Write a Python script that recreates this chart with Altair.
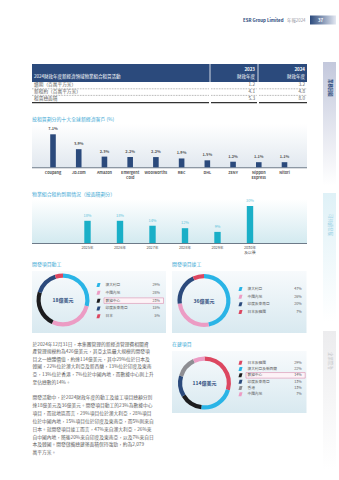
import altair as alt
import pandas as pd

FONT = "Noto Sans CJK TC"
NAVY = "#2b4a7c"
CYAN_BAR = "#1aafc7"
CYAN = "#2ab4e6"
PINK = "#ec9cc4"
BLACK = "#1c1c1e"
RED = "#dc4760"
GRAY = "#8e8e93"
TITLE = "#3aa7d4"
TEXT = "#4a4a4a"
PARA = "#606060"

# ---------------- data ----------------
table_rows = ["續期（百萬平方米）", "新租約（百萬平方米）", "租賃總面積"]
fy2023 = [1.2, 4.1, 5.3]
fy2024 = [3.2, 4.8, 8.0]

customers = ["Coupang", "JD.com", "Amazon", "Emergent\nCold", "Woolworths",
             "RBC", "DHL", "ZENY", "Nippon\nExpress", "Nitori"]
customer_pct = [7.1, 3.9, 2.3, 2.2, 2.2, 1.9, 1.5, 1.2, 1.1, 1.1]

expiry_years = ["2025年", "2026年", "2027年", "2028年", "2029年", "2030年\n及以後"]
expiry_pct = [18, 18, 14, 12, 9, 30]

start_regions = ["澳大利亞", "中國內地", "數據中心", "印度及東南亞", "日本"]
start_pct = [29, 28, 23, 15, 5]

done_regions = ["澳大利亞", "中國內地", "印度及東南亞", "日本及韓國"]
done_pct = [47, 26, 20, 7]

wip_regions = ["日本及韓國", "澳大利亞及新西蘭", "數據中心", "印度及東南亞", "香港", "中國內地"]
wip_pct = [29, 22, 14, 13, 13, 7]

para1 = [
    "於2024年12月31日，本集團管理的新經濟管理費相關資",
    "產管理規模約為426億美元，其亞太區最大規模的開發項",
    "目之一總體價值，約達114億美元，其中29%位於日本及",
    "韓國，22%位於澳大利亞及新西蘭，13%位於印度及東南",
    "亞，13%位於香港，7%位於中國內地，而數據中心則上升",
    "至佔總數的14%。",
]
para2 = [
    "開發活動中，於2024財政年度的動工及竣工項目總額分別",
    "達18億美元及36億美元。開發項目動工的23%為數據中心",
    "項目，而就地區而言，29%項目位於澳大利亞，28%項目",
    "位於中國內地，15%項目位於印度及東南亞，而5%則來自",
    "日本。就開發項目竣工而言，47%來自澳大利亞，26%來",
    "自中國內地，隨後20%來自印度及東南亞，以及7%來自日",
    "本及韓國。開發儲備總建築面積保持強勁，約為2,079",
    "萬平方米。",
]

# ---------------- helpers ----------------
ONE = pd.DataFrame({"k": [0]})
layers = []


def rect(x, x2, y, y2, **kw):
    return alt.Chart(ONE).mark_rect(**kw).encode(
        x=alt.value(x), x2=alt.value(x2), y=alt.value(y), y2=alt.value(y2))


def rule(x, x2, y, y2, **kw):
    return alt.Chart(ONE).mark_rule(**kw).encode(
        x=alt.value(x), x2=alt.value(x2), y=alt.value(y), y2=alt.value(y2))


def txt(x, y, s, size=4.7, color=TEXT, align="left", weight="normal", angle=0, baseline="middle"):
    return alt.Chart(ONE).mark_text(
        text=s, fontSize=size, color=color, align=align, fontWeight=weight,
        angle=angle, baseline=baseline, font=FONT).encode(x=alt.value(x), y=alt.value(y))


def grad(c1, c2, horizontal=False):
    return alt.LinearGradient(
        gradient="linear",
        stops=[alt.GradientStop(color=c1, offset=0), alt.GradientStop(color=c2, offset=1)],
        x1=0, x2=1 if horizontal else 0, y1=0, y2=0 if horizontal else 1)


# ---------------- page header ----------------
layers.append(txt(283.5, 20.5, "ESR Group Limited", size=4.4, color=NAVY, align="right", weight="bold"))
layers.append(txt(287, 20.5, "年報2024", size=4.4, color="#9a9aa6"))
layers.append(rect(310, 336, 15.5, 24.5, color=grad(NAVY, "#e4e8f2", horizontal=True)))
layers.append(txt(318, 20.5, "37", size=4.4, color="white", weight="bold"))

# ---------------- right side tabs ----------------
layers.append(rect(323, 336, 62, 185, color=grad("#c3c8dc", "#ffffff")))
layers.append(txt(329.5, 79, "業務回顧", size=4.4, color=NAVY, weight="bold", angle=90))
layers.append(rect(323, 336, 193, 322, color=grad("#dff1f7", "#ffffff")))
layers.append(txt(329.5, 214, "可持續發展", size=4.4, color="#9fd3e6", angle=90))
layers.append(rect(323, 336, 331, 470, color=grad("#ececee", "#ffffff")))
layers.append(txt(329.5, 352, "企業管治", size=4.4, color="#c4c4c8", angle=90))

# ---------------- table ----------------
layers.append(rect(32, 307, 64, 82, color=NAVY))
layers.append(rule(210, 210, 64, 82, color="white", strokeWidth=0.8))
layers.append(rule(258, 258, 64, 82, color="white", strokeWidth=0.8))
layers.append(txt(34, 76.5, "2024財政年度新經濟領域物業組合租賃活動", size=4.5, color="white"))
layers.append(txt(255, 70, "2023", size=4.5, color="white", align="right", weight="bold"))
layers.append(txt(255, 76.5, "財政年度", size=4.5, color="white", align="right"))
layers.append(txt(305, 70, "2024", size=4.5, color="white", align="right", weight="bold"))
layers.append(txt(305, 76.5, "財政年度", size=4.5, color="white", align="right"))
for yy in (88.8, 95.4):
    for a, b in ((32, 209), (211, 257), (259, 307)):
        layers.append(rule(a, b, yy, yy, color="#555", strokeWidth=0.5, strokeDash=[0.8, 0.8]))
for a, b in ((32, 209), (211, 257), (259, 307)):
    layers.append(rule(a, b, 102.6, 102.6, color="#333", strokeWidth=1.1))

tbl = pd.DataFrame({"row": table_rows,
                    "v23": [f"{v:.1f}" for v in fy2023],
                    "v24": [f"{v:.1f}" for v in fy2024]})
row_y = alt.Y("row:N", scale=alt.Scale(type="point", domain=table_rows, range=[85.4, 98.8], padding=0), axis=None)
layers.append(alt.Chart(tbl).mark_text(font=FONT, fontSize=4.7, color=PARA, align="left").encode(
    x=alt.value(34), y=row_y, text="row:N"))
layers.append(alt.Chart(tbl).mark_text(font=FONT, fontSize=4.7, color=PARA, align="right").encode(
    x=alt.value(255), y=row_y, text="v23:N"))
layers.append(alt.Chart(tbl).mark_text(font=FONT, fontSize=4.7, color=PARA, align="right").encode(
    x=alt.value(305), y=row_y, text="v24:N"))

# ---------------- bar chart 1: top customers ----------------
layers.append(txt(32, 119.5, "按租賃劃分的十大全球新經濟客戶 (%)", size=4.9, color=TITLE))
layers.append(rect(32, 307, 124, 167.5, color=grad("#ffffff", "#e1e8ef")))
layers.append(rule(32, 307, 167.8, 167.8, color="#6d7a88", strokeWidth=1.1))

cust_df = pd.DataFrame({"customer": customers, "pct": customer_pct})
cust_df["label"] = [f"{v:.1f}%" for v in customer_pct]
cx = alt.X("customer:N", scale=alt.Scale(type="point", domain=customers, range=[53, 284.5], padding=0), axis=None)
cy = alt.Y("pct:Q", scale=alt.Scale(domain=[0, 7.1], range=[167.3, 134.3], nice=False, zero=True), axis=None)
layers.append(alt.Chart(cust_df).mark_bar(size=5.6, color=NAVY).encode(x=cx, y=cy))
layers.append(alt.Chart(cust_df).mark_text(font=FONT, fontSize=3.9, color="#555", fontWeight="bold", dy=-5).encode(
    x=cx, y=cy, text="label:N"))
layers.append(alt.Chart(cust_df).mark_text(font=FONT, fontSize=3.8, color="#555", fontWeight="bold",
                                           baseline="top", lineBreak="\n", lineHeight=4.6).encode(
    x=cx, y=alt.value(171), text="customer:N"))

# ---------------- bar chart 2: lease expiry ----------------
layers.append(txt(32, 194.5, "物業組合租約到期情況（按面積劃分）", size=4.9, color=TITLE))
layers.append(rect(32, 307, 199, 243, color=grad("#ffffff", "#d3eaf0")))
layers.append(rule(32, 307, 243.5, 243.5, color="#6d7a88", strokeWidth=1.1))

exp_df = pd.DataFrame({"year": expiry_years, "pct": expiry_pct})
exp_df["label"] = [f"{v}%" for v in expiry_pct]
ex = alt.X("year:N", scale=alt.Scale(type="point", domain=expiry_years, range=[87.5, 250], padding=0), axis=None)
ey = alt.Y("pct:Q", scale=alt.Scale(domain=[0, 30], range=[243, 206], nice=False, zero=True), axis=None)
layers.append(alt.Chart(exp_df).mark_bar(size=6.4, color=CYAN_BAR).encode(x=ex, y=ey))
layers.append(alt.Chart(exp_df).mark_text(font=FONT, fontSize=3.9, color="#5fc3da", dy=-5).encode(
    x=ex, y=ey, text="label:N"))
layers.append(alt.Chart(exp_df).mark_text(font=FONT, fontSize=3.8, color="#555",
                                          baseline="top", lineBreak="\n", lineHeight=4.6).encode(
    x=ex, y=alt.value(246), text="year:N"))


# ---------------- donuts ----------------
def donut(cats, pcts, colors, cx_, cy_, label, leg_x, leg_y0, leg_y1, pct_x, highlight=None):
    df = pd.DataFrame({"cat": cats, "pct": pcts, "idx": list(range(len(cats)))})
    df["pct_label"] = [f"{p}%" for p in pcts]
    cs = alt.Scale(domain=cats, range=colors)
    out = [alt.Chart(df).mark_arc(radius=26.5, radius2=22.3).encode(
        theta=alt.Theta("pct:Q", stack=True),
        color=alt.Color("cat:N", scale=cs, legend=None),
        order=alt.Order("idx:Q"),
        x=alt.value(cx_), y=alt.value(cy_))]
    out.append(txt(cx_, cy_, label, size=5, color=NAVY, align="center", weight="bold"))
    ly = alt.Y("cat:N", scale=alt.Scale(type="point", domain=cats, range=[leg_y0, leg_y1], padding=0), axis=None)
    if highlight is not None:
        step = (leg_y1 - leg_y0) / (len(cats) - 1)
        hy = leg_y0 + step * cats.index(highlight)
        out.append(rect(leg_x + 5.5, pct_x + 3.5, hy - 2.8, hy + 2.8, fill="#fdf3f7",
                        stroke="#d88fae", strokeWidth=0.6))
    out.append(alt.Chart(df).mark_point(
        shape="M-0.45,-1L1,-1L0.45,1L-1,1Z", filled=True, size=16, opacity=1).encode(
        x=alt.value(leg_x), y=ly, color=alt.Color("cat:N", scale=cs, legend=None)))
    out.append(alt.Chart(df).mark_text(font=FONT, fontSize=3.7, color=PARA, align="left").encode(
        x=alt.value(leg_x + 7), y=ly, text="cat:N"))
    out.append(alt.Chart(df).mark_text(font=FONT, fontSize=3.7, color=PARA, align="right").encode(
        x=alt.value(pct_x), y=ly, text="pct_label:N"))
    return out


layers.append(txt(32, 264.5, "開發項目動工", size=4.9, color=TITLE))
layers.append(txt(172, 264.5, "開發項目竣工", size=4.9, color=TITLE))
layers.append(rect(32, 166, 271, 333, color=grad("#f7fafc", "#d8e9f0")))
layers.append(rect(172, 306.5, 271, 333, color=grad("#f7fafc", "#d8e9f0")))
layers += donut(start_regions, start_pct, [CYAN, PINK, BLACK, NAVY, RED], 63, 300, "18億美元",
                98.5, 285, 316.3, 160, highlight="數據中心")
layers += donut(done_regions, done_pct, [CYAN, PINK, NAVY, RED], 204, 300.5, "36億美元",
                240.5, 289, 312, 301.7)

layers.append(txt(172, 345, "在建項目", size=4.9, color=TITLE))
layers.append(rect(172, 306.5, 351, 413, color=grad("#f7fafc", "#d8e9f0")))
layers += donut(wip_regions, wip_pct, [RED, CYAN, BLACK, NAVY, GRAY, PINK], 204.5, 383, "114億美元",
                240.5, 362.7, 394.3, 301.7, highlight="數據中心")

# ---------------- paragraphs ----------------
for i, line in enumerate(para1):
    layers.append(txt(32.5, 344.5 + i * 7.6, line, size=4.75, color=PARA))
for i, line in enumerate(para2):
    layers.append(txt(32.5, 398 + i * 7.9, line, size=4.75, color=PARA))

chart = alt.layer(*layers).resolve_scale(
    x="independent", y="independent", color="independent", theta="independent"
).properties(
    width=339, height=480, padding=0,
    autosize=alt.AutoSizeParams(type="none"), background="white"
).configure_view(stroke=None)

chart.save("out.html", embed_options={"renderer": "svg", "actions": False})
